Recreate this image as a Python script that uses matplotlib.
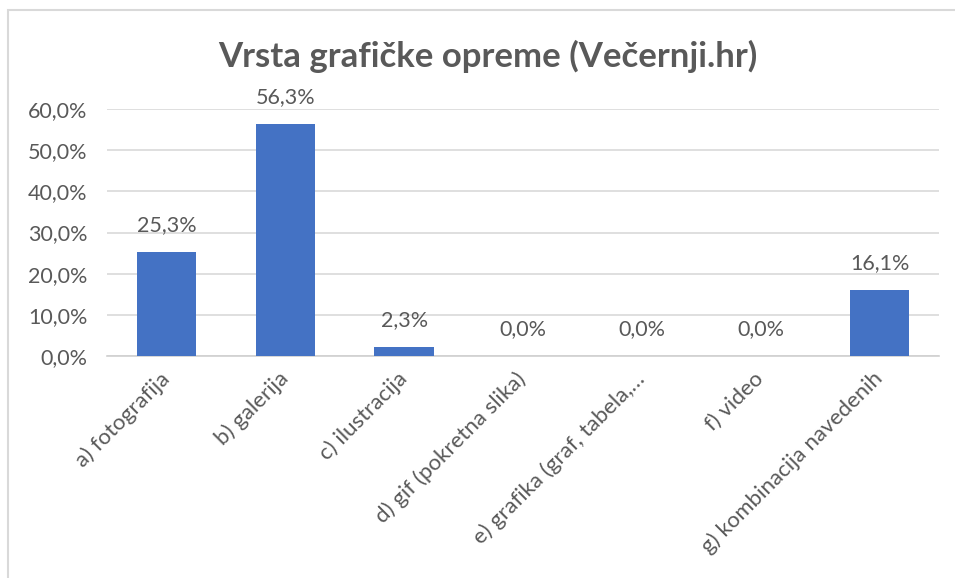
import matplotlib
matplotlib.use("Agg")
import matplotlib.pyplot as plt
from matplotlib.patches import Rectangle

categories = ["a) fotografija", "b) galerija", "c) ilustracija", "d) gif (pokretna slika)",
              "e) grafika (graf, tabela,…", "f) video", "g) kombinacija navedenih"]
values = [25.3, 56.3, 2.3, 0.0, 0.0, 0.0, 16.1]
yticks = [0, 10, 20, 30, 40, 50, 60]
title = "Vrsta grafičke opreme (Večernji.hr)"

plt.rcParams['font.family'] = ['Lato', 'DejaVu Sans']
txt = '#595959'

fig = plt.figure(figsize=(9.55, 5.78), dpi=100)
fig.patches.append(Rectangle((8/955, -0.1), 1.2, 1 - 10/578 + 0.1, transform=fig.transFigure,
                             fill=False, edgecolor='#D9D9D9', linewidth=1.5))
ax = fig.add_axes([107/955, 1 - 356/578, 832/955, 247/578])
x = list(range(len(categories)))
ax.bar(x, values, width=0.5, color='#4472C4', zorder=3)
ax.set_xlim(-0.5, len(categories) - 0.5)
ax.set_ylim(0, 60)
ax.set_yticks(yticks)
ax.set_yticklabels([f"{v:.1f}".replace('.', ',') + '%' for v in yticks], color=txt, fontsize=15.5)
ax.yaxis.grid(True, color='#D9D9D9', linewidth=1.2, zorder=0)
ax.set_axisbelow(True)
for s in ['top', 'right', 'left']:
    ax.spines[s].set_visible(False)
ax.spines['bottom'].set_color('#D0D0D0')
ax.spines['bottom'].set_linewidth(1.2)
ax.tick_params(axis='y', length=0, pad=14)
ax.set_xticks(x)
ax.set_xticklabels(categories, rotation=45, ha='right', va='center', rotation_mode='anchor',
                   color=txt, fontsize=16)
ax.tick_params(axis='x', length=0, pad=14)
for xi, v in zip(x, values):
    ax.annotate(f"{v:.1f}".replace('.', ',') + '%', (xi, v), xytext=(0, 12),
                textcoords='offset points', ha='center', va='bottom', color=txt, fontsize=15.5)
fig.text(488/955, 1 - 56/578, title, ha='center', va='center', fontsize=25,
         fontweight='bold', color=txt)
fig.savefig('out.png', dpi=100)
